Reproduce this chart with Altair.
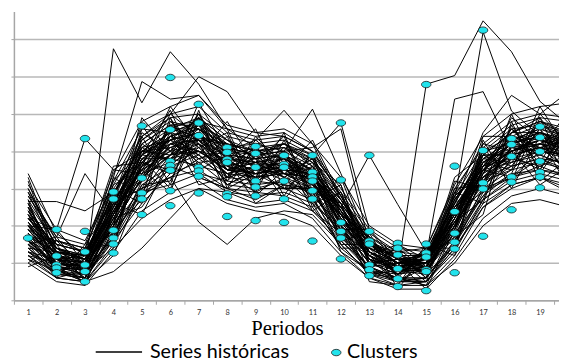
import altair as alt
import pandas as pd

periods = list(range(1, 21))

# historical series (values in grid units, periods 1..20)
s01 = [1.8,1.0,0.8,2.2,3.6,4.1,4.3,3.6,3.4,3.6,3.2,2.1,1.2,0.8,0.9,2.0,3.4,3.9,4.1,3.8]
s02 = [2.3,1.3,1.1,2.6,3.9,4.5,4.8,3.9,3.8,3.9,3.5,2.4,1.4,1.0,1.1,2.3,3.7,4.2,4.5,4.2]
s03 = [1.4,0.7,0.6,1.8,3.1,3.6,3.9,3.2,3.1,3.2,2.9,1.8,0.9,0.6,0.6,1.6,3.0,3.5,3.7,3.5]
s04 = [2.0,1.2,0.9,2.9,4.1,4.3,4.0,3.5,3.7,3.3,3.0,2.5,1.5,1.1,0.9,2.4,3.2,4.0,4.3,4.0]
s05 = [1.6,0.9,0.7,2.0,3.3,3.9,4.4,3.8,3.2,3.5,3.4,2.0,1.0,0.7,0.8,1.8,3.5,3.7,3.9,3.6]
s06 = [2.6,1.5,1.3,2.7,4.3,4.8,4.6,4.2,4.0,4.1,3.7,2.7,1.7,1.2,1.2,2.6,3.9,4.5,4.8,4.6]
s07 = [1.2,0.6,0.5,1.5,2.8,3.3,3.5,3.0,2.9,2.8,2.5,1.5,0.7,0.4,0.5,1.3,2.7,3.2,3.4,3.2]
s08 = [1.9,1.1,1.0,2.4,3.2,4.2,4.5,3.3,3.5,3.8,3.3,2.2,1.3,0.9,1.0,2.1,3.3,4.1,4.0,3.9]
s09 = [2.1,0.9,0.8,2.3,3.8,3.8,4.2,3.7,3.3,3.4,3.1,2.3,1.1,0.8,0.7,2.2,3.6,3.8,4.2,4.1]
s10 = [3.4,1.8,1.2,2.5,3.5,4.4,3.9,3.4,3.6,3.2,3.6,2.6,1.6,1.0,1.3,2.5,3.1,3.6,3.8,3.7]
s11 = [1.5,1.0,0.9,2.1,3.4,3.7,4.0,3.5,3.5,3.7,3.2,1.9,1.2,0.8,0.9,1.9,3.2,3.8,4.0,3.8]
s12 = [2.8,1.6,1.4,3.2,4.6,5.0,5.2,4.5,4.3,4.4,4.0,3.0,1.9,1.4,1.3,2.9,4.2,4.8,5.0,4.9]
s13 = [1.0,0.5,0.4,1.3,2.4,2.9,3.2,2.7,2.5,2.6,2.2,1.3,0.6,0.3,0.3,1.1,2.2,2.8,3.0,2.8]
s14 = [2.4,1.4,1.0,2.2,3.7,4.6,4.4,4.0,3.6,3.5,3.4,2.2,1.4,1.0,1.0,2.4,3.6,4.4,4.1,4.3]
s15 = [1.7,0.8,0.7,2.6,3.0,3.5,4.1,3.4,3.6,3.3,2.8,2.0,1.0,0.8,0.8,1.7,3.3,3.6,3.8,3.5]
s16 = [2.2,1.2,1.1,1.9,3.6,4.0,4.6,3.9,3.4,3.6,3.5,2.5,1.3,0.9,1.1,2.0,3.8,4.0,4.4,4.0]
s17 = [1.3,0.7,0.7,1.6,2.6,3.4,3.7,3.1,3.0,3.0,2.7,1.6,0.8,0.5,0.6,1.5,2.9,3.3,3.6,3.3]
s18 = [2.5,1.3,1.2,3.0,4.0,4.3,4.9,4.1,3.9,4.0,3.6,2.6,1.5,1.1,1.0,2.7,3.8,4.3,4.6,4.4]
s19 = [1.1,0.6,0.5,1.4,2.2,2.7,3.0,2.6,2.4,2.3,2.0,1.2,0.6,0.4,0.4,1.0,2.0,2.6,2.7,2.5]
s20 = [2.9,1.7,1.5,3.4,4.8,5.2,5.5,4.7,4.5,4.6,4.2,3.3,2.0,1.5,1.4,3.1,4.4,5.0,5.2,5.3]
s21 = [1.8,1.1,0.8,2.4,3.5,3.9,4.3,3.6,3.8,3.4,3.3,2.1,1.2,0.7,0.9,2.2,3.4,3.9,4.1,4.0]
s22 = [2.0,0.9,1.0,2.0,3.3,4.4,4.2,3.7,3.5,3.7,3.1,2.3,1.1,0.9,0.8,1.9,3.5,4.0,4.2,3.8]
s23 = [1.6,1.2,0.8,2.5,3.9,3.8,4.5,3.5,3.3,3.5,3.4,2.0,1.3,0.8,1.0,2.1,3.1,3.7,4.0,3.9]
s24 = [2.7,1.5,1.3,2.8,4.2,4.7,4.7,4.3,3.8,4.2,3.8,2.8,1.6,1.2,1.2,2.8,4.0,4.6,4.7,4.5]
s25 = [1.4,0.8,0.6,1.7,3.0,3.3,3.8,3.3,3.2,3.1,2.9,1.7,0.9,0.6,0.6,1.6,2.8,3.4,3.5,3.4]
s26 = [2.3,1.4,1.1,2.3,3.8,4.2,4.0,3.8,3.6,3.8,3.5,2.4,1.5,1.0,1.1,2.3,3.7,4.1,4.3,4.1]
s27 = [1.9,1.0,0.9,2.1,3.4,4.1,4.4,3.6,3.4,3.5,3.2,2.2,1.1,0.8,0.9,2.0,3.3,3.9,4.1,3.9]
s28 = [3.1,1.9,1.6,3.1,4.4,4.9,5.0,4.4,4.2,4.3,3.9,2.9,1.8,1.3,1.4,3.0,4.1,4.7,4.9,4.8]
s29 = [1.2,0.7,0.6,1.6,2.9,3.1,3.4,2.9,2.8,2.9,2.6,1.4,0.8,0.5,0.5,1.4,2.6,3.1,3.3,3.1]
s30 = [2.1,1.2,1.0,2.7,3.7,4.3,4.5,3.8,3.7,3.6,3.3,2.4,1.3,0.9,1.0,2.2,3.5,4.2,4.4,4.1]
s31 = [2.4,1.0,0.9,2.0,4.2,3.7,4.9,3.2,3.9,3.3,3.7,2.0,1.4,0.7,1.2,2.5,3.2,4.3,3.9,4.4]
s32 = [1.7,1.3,0.7,2.8,3.2,4.5,3.8,4.0,3.1,4.0,2.9,2.6,1.0,1.1,0.7,2.0,3.9,3.6,4.6,3.7]
s33 = [2.6,1.1,1.2,2.3,4.5,4.0,5.0,3.6,4.1,3.5,3.9,2.3,1.7,0.8,1.3,2.8,3.4,4.6,4.0,4.6]
s34 = [1.3,0.9,0.5,1.9,2.7,3.8,3.6,3.4,2.9,3.3,2.6,1.9,0.8,0.6,0.5,1.5,3.0,3.3,3.8,3.4]
s35 = [2.0,1.4,1.1,3.1,3.5,4.7,4.3,4.2,3.5,4.1,3.4,2.7,1.5,1.2,1.0,2.5,3.6,4.4,4.3,4.0]
s36 = [1.5,0.6,0.8,1.7,3.7,3.4,4.2,3.1,3.5,3.0,3.0,1.7,1.2,0.5,0.9,1.8,2.8,3.8,3.6,3.9]
s37 = [3.0,1.6,1.3,2.4,3.6,5.0,4.4,4.1,3.7,3.9,3.3,2.6,1.6,1.1,1.1,2.7,3.7,4.2,4.7,4.3]
s38 = [1.1,0.8,0.6,2.2,2.5,3.6,3.3,3.0,2.7,3.1,2.4,1.8,0.7,0.6,0.4,1.2,2.5,3.0,3.3,2.9]
s39 = [2.2,1.5,1.3,1.8,4.0,3.9,4.7,3.5,4.0,3.4,3.8,2.1,1.5,1.0,1.2,2.2,3.9,3.9,4.5,4.1]
s40 = [1.8,0.8,0.9,2.7,3.3,4.3,3.7,3.8,3.3,3.9,3.0,2.5,1.1,0.9,0.8,2.1,3.0,4.1,3.9,3.6]
s41 = [2.9,1.2,0.6,3.3,2.8,4.9,3.6,4.4,2.9,4.3,2.7,3.1,0.9,1.3,0.6,2.9,2.6,4.7,3.5,4.8]
s42 = [1.0,1.6,1.4,1.5,4.4,3.1,5.1,3.0,4.2,2.8,4.0,1.6,1.8,0.6,1.4,1.4,4.1,3.2,4.9,3.3]
s43 = [2.7,0.7,1.1,2.9,3.9,5.1,3.4,3.2,4.4,3.6,2.6,2.9,1.0,1.4,0.8,3.2,3.0,5.0,3.4,4.5]
s44 = [1.9,1.5,0.5,1.2,3.1,3.2,4.8,4.6,3.0,3.2,3.9,2.4,0.5,0.4,1.5,1.2,4.3,3.0,4.4,3.0]
s45 = [3.2,1.1,0.9,2.0,4.9,4.0,3.5,3.9,4.6,3.0,3.5,1.5,1.5,1.2,0.6,2.6,3.2,3.5,5.2,4.0]
s46 = [1.4,1.3,1.0,3.5,3.4,4.6,4.6,2.8,3.3,4.5,2.5,3.3,1.3,0.7,1.2,1.7,2.3,4.8,3.2,3.8]
s47 = [2.5,0.6,1.5,2.6,2.3,3.8,4.0,3.6,3.1,3.9,3.2,1.3,0.8,1.5,0.9,2.9,3.5,3.3,4.0,5.1]
s48 = [0.9,1.2,0.4,2.4,3.5,2.9,4.9,4.3,3.8,2.7,3.6,2.0,0.6,1.0,0.3,1.9,4.2,4.0,3.1,3.6]
s49 = [2.8,1.7,0.7,2.1,4.6,4.5,3.1,3.3,4.0,3.8,2.9,1.9,1.9,0.9,1.3,2.1,2.7,4.5,4.9,3.9]
s50 = [1.6,0.7,1.2,3.0,2.6,4.8,4.1,4.5,2.8,3.5,4.3,2.8,1.1,0.5,1.0,3.3,3.9,3.9,3.5,4.7]
s51 = [3.0,1.4,0.8,1.7,3.8,3.0,4.5,3.5,3.7,4.4,2.8,1.4,1.4,1.2,0.7,1.5,3.4,4.9,4.3,3.4]
s52 = [2.0,1.9,1.0,2.5,4.3,4.9,3.3,3.0,3.4,3.0,3.1,2.6,0.7,0.8,1.4,2.4,2.9,3.4,5.0,4.2]
s53 = [1.2,1.0,1.3,3.6,3.7,3.5,5.3,4.0,3.9,3.3,3.8,2.2,1.6,0.6,0.4,2.0,4.4,4.4,3.7,4.9]
s54 = [2.3,0.8,0.5,2.0,3.0,4.2,3.9,4.8,3.6,4.0,2.4,2.9,1.2,1.5,1.1,2.7,3.8,3.7,4.6,3.2]
s55 = [3.3,1.3,1.2,2.8,4.7,3.6,4.3,3.3,4.3,3.7,3.4,1.7,0.9,1.0,0.9,3.0,3.1,4.1,4.2,4.6]
s56 = [1.7,1.6,0.9,1.6,3.2,4.4,4.7,3.8,2.6,3.1,3.0,2.3,1.7,0.3,1.3,1.6,3.6,4.6,3.8,3.7]
s57 = [2.6,0.9,1.4,3.2,4.0,4.1,3.8,4.1,3.9,4.2,3.7,3.1,1.0,1.1,0.5,2.5,3.3,3.8,4.8,4.4]
s58 = [1.3,1.1,0.6,2.3,3.6,5.2,4.2,3.1,3.5,3.6,2.7,1.8,1.3,0.9,1.0,2.2,4.0,4.2,4.1,3.5]
s59 = [2.2,1.4,1.1,2.9,2.9,3.9,5.0,3.9,4.1,3.4,3.3,2.5,1.5,1.3,0.8,2.8,3.5,4.5,4.5,4.3]
s60 = [1.5,0.9,0.8,1.4,4.1,3.7,4.4,4.2,3.2,3.9,3.5,2.0,0.8,0.7,1.2,1.9,3.7,3.5,4.2,4.0]
o01 = [1.6,1.0,0.8,6.75,5.3,6.67,5.8,4.6,4.1,4.2,3.6,2.3,1.2,0.9,0.9,2.1,3.5,4.2,4.4,4.2]
o02 = [2.0,1.1,1.0,3.3,5.87,5.4,5.5,4.6,4.4,4.5,4.0,2.8,1.7,1.3,1.2,2.6,3.9,4.5,4.8,4.5]
o03 = [2.2,1.9,4.34,3.5,4.0,4.5,4.3,3.9,3.6,3.7,3.3,2.4,1.3,1.0,1.0,2.3,3.6,4.0,4.3,4.1]
o04 = [2.5,1.3,1.2,2.6,4.1,4.6,4.9,4.3,4.0,4.2,3.89,4.76,1.9,1.1,1.0,2.4,3.7,4.2,4.5,4.3]
o05 = [2.1,1.2,1.0,2.5,3.9,4.4,4.6,4.1,4.2,4.0,4.1,4.6,1.5,0.9,1.1,2.2,3.5,4.0,4.3,4.2]
o06 = [1.9,1.0,0.9,2.2,3.6,4.2,4.3,3.7,3.5,3.4,3.3,2.5,3.89,2.57,1.3,2.3,3.5,4.0,4.2,3.9]
o07 = [1.8,1.1,0.9,2.3,3.5,4.0,4.2,3.5,3.4,3.6,3.2,2.0,1.2,0.8,5.8,6.03,7.5,6.67,5.34,4.7]
o08 = [2.3,1.3,1.1,2.5,3.8,4.3,4.5,3.8,3.7,3.8,3.4,2.3,1.3,0.9,1.0,2.7,7.2,5.08,4.4,4.3]
o09 = [1.7,0.9,0.8,2.0,3.3,3.9,4.1,3.4,3.3,3.4,3.0,1.9,1.0,0.7,1.2,5.4,5.6,4.0,4.3,4.0]
o10 = [1.5,1.7,3.4,2.3,3.2,3.9,4.0,3.5,3.4,3.5,3.1,2.1,1.2,0.8,0.8,2.0,3.3,3.9,4.1,3.8]
o11 = [1.3,0.8,0.5,0.77,1.4,2.2,3.0,2.9,2.6,2.7,2.4,1.6,0.9,0.5,0.6,1.5,2.7,3.3,3.5,3.3]
o12 = [1.6,0.9,0.7,1.8,2.9,3.3,2.1,1.5,2.2,2.4,2.3,1.5,0.7,0.5,0.5,1.4,2.5,3.1,3.3,3.0]
o13 = [2.65,2.65,2.4,2.9,3.9,4.3,4.6,3.9,3.8,3.9,3.5,2.5,1.4,1.0,1.0,2.4,3.8,4.3,4.6,4.3]
o14 = [2.0,1.2,1.0,2.4,3.9,4.4,4.7,4.0,4.3,5.1,4.2,2.7,1.5,1.0,1.1,2.4,3.6,4.2,4.4,4.1]
o15 = [2.2,1.3,1.1,2.6,4.0,4.5,4.8,4.1,3.9,4.0,5.13,3.4,1.6,1.1,1.1,2.5,3.7,4.3,4.5,4.2]
o16 = [2.4,1.4,1.2,2.8,4.2,4.7,4.8,4.2,4.0,4.1,3.8,2.7,1.6,1.1,1.2,2.6,4.5,5.5,5.0,5.6]
o17 = [2.4,1.4,1.2,2.8,4.4,5.0,6.0,5.6,4.5,4.4,4.0,2.8,1.6,1.1,1.2,2.6,4.0,4.4,4.7,4.4]

all_series = [s01, s02, s03, s04, s05, s06, s07, s08, s09, s10,
              s11, s12, s13, s14, s15, s16, s17, s18, s19, s20,
              s21, s22, s23, s24, s25, s26, s27, s28, s29, s30,
              s31, s32, s33, s34, s35, s36, s37, s38, s39, s40,
              s41, s42, s43, s44, s45, s46, s47, s48, s49, s50,
              s51, s52, s53, s54, s55, s56, s57, s58, s59, s60,
              o01, o02, o03, o04, o05, o06, o07, o08, o09, o10,
              o11, o12, o13, o14, o15, o16, o17]

# cluster centroids per period (1..19)
c01 = [1.67]
c02 = [1.90, 1.19, 0.95, 0.87, 0.74]
c03 = [4.34, 1.85, 1.30, 0.95, 0.77, 0.50]
c04 = [2.91, 2.72, 1.88, 1.67, 1.51, 1.27]
c05 = [4.68, 3.28, 2.88, 2.72, 2.30]
c06 = [5.98, 4.58, 3.73, 3.62, 3.49, 2.94, 2.54]
c07 = [5.26, 4.76, 4.42, 3.57, 3.47, 3.33, 2.88]
c08 = [4.10, 3.97, 3.78, 3.70, 2.86, 2.78, 2.25]
c09 = [4.13, 3.94, 3.57, 3.20, 3.04, 2.80, 2.14]
c10 = [3.89, 3.65, 3.57, 3.20, 2.72, 2.09]
c11 = [3.89, 3.44, 3.31, 3.20, 2.94, 2.72, 1.59]
c12 = [4.76, 3.23, 2.09, 1.85, 1.67, 1.11]
c13 = [3.89, 1.85, 1.59, 1.51, 0.95, 0.82, 0.66]
c14 = [1.53, 1.40, 1.22, 0.85, 0.58, 0.37]
c15 = [5.79, 1.51, 1.27, 1.16, 0.82, 0.77, 0.26]
c16 = [3.60, 2.38, 1.80, 1.56, 1.38, 0.74]
c17 = [7.25, 4.02, 3.15, 2.99, 1.72]
c18 = [4.34, 4.18, 3.86, 3.31, 3.17, 2.43]
c19 = [4.66, 4.37, 3.99, 3.73, 3.44, 3.31, 3.02]
clusters = [c01, c02, c03, c04, c05, c06, c07, c08, c09, c10,
            c11, c12, c13, c14, c15, c16, c17, c18, c19]

line_label = "Series históricas"
point_label = "Clusters"

rows = []
for i, s in enumerate(all_series):
    for p, v in zip(periods, s):
        rows.append({"series": i, "period": p, "value": v, "kind": line_label})
df_lines = pd.DataFrame(rows)

prow = []
for p, vals in zip(periods, clusters):
    for v in vals:
        prow.append({"period": p, "value": v, "kind": point_label})
df_pts = pd.DataFrame(prow)

xscale = alt.Scale(domain=[0.5, 19.67], nice=False, zero=False)
yscale = alt.Scale(domain=[0, 7.75], nice=False, zero=True)

grey = "#a6a6a6"
# labelled axis: labels centred on each period, no ticks
xaxis_labels = alt.Axis(
    orient="bottom",
    values=periods[:19],
    ticks=False, labelFlush=False, labelOverlap=False,
    labelFont="Lato", labelFontSize=7.5, labelColor="#333333", labelPadding=8,
    domainColor=grey, domainWidth=1.5, grid=False,
    title="Periodos", titleFont="Liberation Serif", titleFontSize=21,
    titleFontWeight="normal", titleColor="#000000",
    titleX=277, titleY=35, titleBaseline="alphabetic", titleAlign="center",
)
# tick axis: ticks between periods, no labels
xaxis_ticks = alt.Axis(
    orient="bottom",
    values=[p - 0.5 for p in periods],
    labels=False, title=None, domain=False, grid=False,
    ticks=True, tickSize=4, tickColor=grey, tickWidth=1,
)
yaxis = alt.Axis(
    values=[0, 1, 2, 3, 4, 5, 6, 7], labels=False, title=None,
    tickSize=3, tickColor=grey, domainColor=grey, domainWidth=1.5,
    grid=True, gridColor="#b8b8b8", gridWidth=1.5,
)

ellipse = "M-1,0A1,0.68,0,1,1,1,0A1,0.68,0,1,1,-1,0Z"

lines = alt.Chart(df_lines).mark_line(clip=True, strokeWidth=1).encode(
    x=alt.X("period:Q", scale=xscale, axis=xaxis_labels),
    y=alt.Y("value:Q", scale=yscale, axis=yaxis),
    detail="series:N",
    stroke=alt.Stroke(
        "kind:N",
        scale=alt.Scale(domain=[line_label], range=["#000000"]),
        legend=alt.Legend(
            orient="none", legendX=82, legendY=321, title=None,
            symbolType="stroke", symbolSize=2209, symbolStrokeWidth=1.5,
            symbolStrokeColor="#000000",
            labelFont="Lato", labelFontSize=20, labelColor="#000000",
            labelOffset=7, padding=0,
        ),
    ),
)

points = alt.Chart(df_pts).mark_point(
    filled=True, shape=ellipse, size=92, stroke="#1b1b1b", strokeWidth=0.8, opacity=1, clip=True
).encode(
    x=alt.X("period:Q", scale=xscale, axis=xaxis_ticks),
    y=alt.Y("value:Q", scale=yscale, axis=yaxis),
    fill=alt.Fill(
        "kind:N",
        scale=alt.Scale(domain=[point_label], range=["#22E3EC"]),
        legend=alt.Legend(
            orient="none", legendX=317, legendY=336, title=None,
            symbolType=ellipse, symbolSize=92, symbolStrokeColor="#1b1b1b",
            symbolStrokeWidth=0.8, symbolFillColor="#22E3EC",
            labelFont="Lato", labelFontSize=20, labelColor="#000000",
            labelOffset=1, padding=0,
        ),
    ),
)

chart = alt.layer(lines, points).resolve_axis(x="independent").properties(
    width=553, height=293,
    autosize=alt.AutoSizeParams(type="none"),
    padding={"left": 6, "top": 1, "right": 0, "bottom": 59},
    background="white",
).configure_view(stroke=None)

chart.save("out.html", embed_options={"renderer": "svg", "actions": False})
